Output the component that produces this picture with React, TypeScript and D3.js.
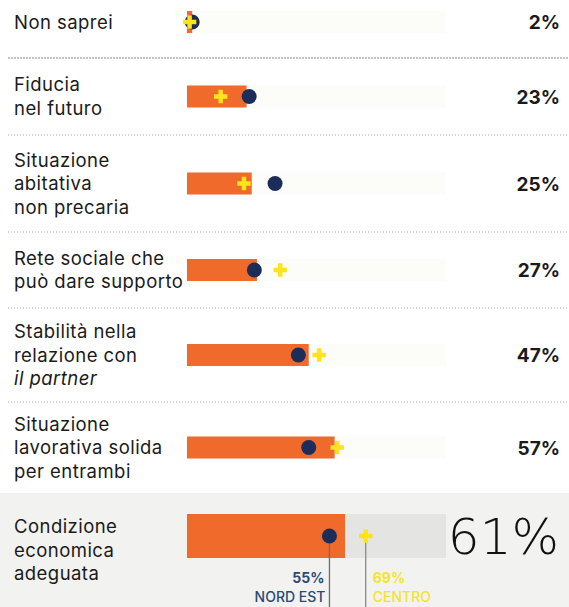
import React, { useEffect } from 'react';
import * as d3 from 'd3';

const labels: string[][] = [
  ['Non saprei'],
  ['Fiducia', 'nel futuro'],
  ['Situazione', 'abitativa', 'non precaria'],
  ['Rete sociale che', 'può dare supporto'],
  ['Stabilità nella', 'relazione con', 'il partner'],
  ['Situazione', 'lavorativa solida', 'per entrambi'],
  ['Condizione', 'economica', 'adeguata'],
];
const values = [2, 23, 25, 27, 47, 57, 61];
const nordEst = [2, 24, 34, 26, 43, 47, 55];
const centro = [1, 13, 22, 36, 51, 58, 69];
const calloutNames = ['NORD EST', 'CENTRO'];

const W = 569;
const H = 607;
const FONT = 'Inter, Roboto, sans-serif';
const ORANGE = '#f06a2b';
const NAVY = '#1c2d5a';
const YELLOW = '#ffe41c';

// row separators (layout)
const seps = [58, 135, 232, 308, 402, 493];

export default function App() {
  useEffect(() => {
    document.body.style.margin = '0';
  }, []);

  const x = d3.scaleLinear().domain([0, 100]).range([187, 446]);
  const last = values.length - 1;
  const tops = [-14, ...seps];
  const bottoms = [...seps, H];
  const lineH = 23.5;

  const cross = d3.symbol(d3.symbolCross, 100)() || '';

  return (
    <svg width={W} height={H} viewBox={`0 0 ${W} ${H}`} style={{ display: 'block', background: '#fff' }}>
      {/* highlighted band for the last row */}
      <rect x={0} y={seps[seps.length - 1]} width={W} height={H - seps[seps.length - 1]} fill="#f2f2f0" />

      {seps.slice(0, -1).map((s, i) => (
        <line
          key={i}
          x1={8}
          x2={W}
          y1={s}
          y2={s}
          stroke={i === 0 ? '#8a8a86' : '#adada8'}
          strokeWidth={1}
          strokeDasharray={i === 0 ? '2 1' : '1 2'}
        />
      ))}

      {values.map((v, i) => {
        const isLast = i === last;
        const rc = (tops[i] + bottoms[i]) / 2;
        const cy = isLast ? rc - 14 : rc;
        const bh = isLast ? 44 : 22;
        const lines = labels[i];
        const firstBase = rc - ((lines.length - 1) * lineH) / 2 + 6.5;
        return (
          <g key={i}>
            {lines.map((l, j) => (
              <text
                key={j}
                x={14}
                y={firstBase + j * lineH}
                fontFamily={FONT}
                fontSize={18.5}
                letterSpacing={0.45}
                fill="#1a1a1a"
                fontStyle={l === 'il partner' ? 'italic' : 'normal'}
              >
                {l}
              </text>
            ))}
            <rect
              x={x(0)}
              y={cy - bh / 2}
              width={x(100) - x(0)}
              height={bh}
              fill={isLast ? '#e4e4e2' : '#fcfcf8'}
            />
            <rect x={x(0)} y={cy - bh / 2} width={x(v) - x(0)} height={bh} fill={ORANGE} />
            {isLast && (
              <>
                <line x1={x(nordEst[i])} x2={x(nordEst[i])} y1={cy} y2={H} stroke="#6d6d6d" strokeWidth={1.3} />
                <line x1={x(centro[i])} x2={x(centro[i])} y1={cy} y2={H} stroke="#8a8a8a" strokeWidth={1.3} />
                <text x={x(nordEst[i]) - 5} y={583} textAnchor="end" fontFamily={FONT} fontWeight={700} fontSize={14} fill="#2b4a72">
                  {nordEst[i]}%
                </text>
                <text x={x(nordEst[i]) - 4} y={602} textAnchor="end" fontFamily={FONT} fontWeight={500} fontSize={14} fill="#2b4a72">
                  {calloutNames[0]}
                </text>
                <text x={x(centro[i]) + 7} y={583} fontFamily={FONT} fontWeight={700} fontSize={14} fill="#f2e42e">
                  {centro[i]}%
                </text>
                <text x={x(centro[i]) + 7} y={602} fontFamily={FONT} fontWeight={500} fontSize={14} fill="#f2e42e">
                  {calloutNames[1]}
                </text>
              </>
            )}
            <circle cx={x(nordEst[i])} cy={cy} r={7.5} fill={NAVY} />
            <path d={cross} transform={`translate(${x(centro[i])},${cy})`} fill={YELLOW} />
            {isLast ? (
              <text x={559} y={cy + 18} textAnchor="end" fontFamily='"DejaVu Sans", sans-serif' fontWeight={200} fontSize={50} fill="#111">
                {v}%
              </text>
            ) : (
              <text x={560} y={cy + 7} textAnchor="end" fontFamily={FONT} fontWeight={700} fontSize={19} fill="#1a1a1a">
                {v}%
              </text>
            )}
          </g>
        );
      })}
    </svg>
  );
}
